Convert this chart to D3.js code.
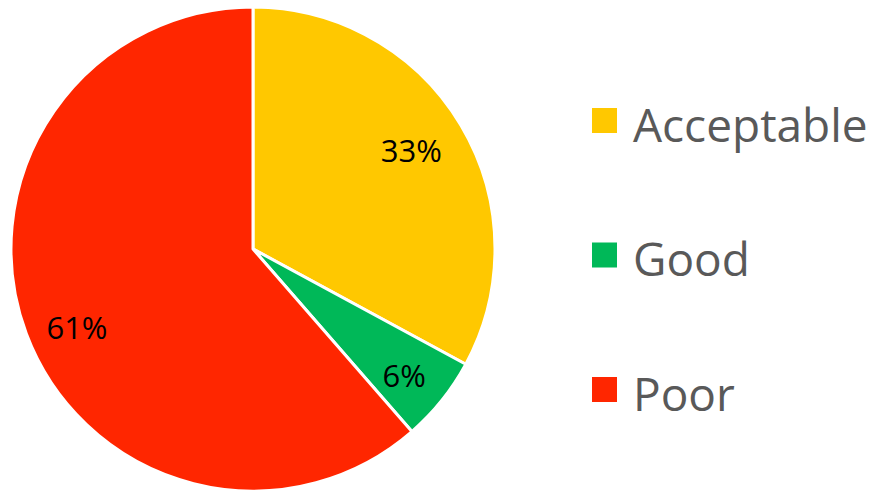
<!DOCTYPE html>
<html>
<head>
<meta charset="utf-8">
<script src="https://cdn.jsdelivr.net/npm/d3@7"></script>
<style>
  body { margin: 0; background: #fff; }
  svg { display: block; }
</style>
</head>
<body>
<svg width="875" height="493"></svg>
<script>
const categories = ['Acceptable', 'Good', 'Poor'];
const values = [32.9, 5.7, 61.4];
const colors = ['#FFC800', '#00B858', '#FF2600'];

const svg = d3.select('svg');
const cx = 253, cy = 249, radius = 242;

const pie = d3.pie().sort(null).value((d) => d.value);
const arc = d3.arc().innerRadius(0).outerRadius(radius);
const labelArc = d3.arc().innerRadius(radius * 0.79).outerRadius(radius * 0.79);
// small nudges, like Excel's best-fit label placement
const nudge = { Acceptable: [-6, 0], Good: [2, 7], Poor: [3, 12] };

const data = categories.map((c, i) => ({ name: c, value: values[i], color: colors[i] }));
const total = d3.sum(values);

const g = svg.append('g').attr('transform', `translate(${cx},${cy})`);

g.selectAll('path')
  .data(pie(data))
  .enter()
    .append('path')
    .attr('d', arc)
    .attr('fill', (d) => d.data.color)
    .attr('stroke', '#fff')
    .attr('stroke-width', 3)
    .attr('stroke-linejoin', 'round');

g.selectAll('text')
  .data(pie(data))
  .enter()
    .append('text')
    .attr('transform', (d) => {
      const [x, y] = labelArc.centroid(d);
      const [nx, ny] = nudge[d.data.name];
      return `translate(${x + nx},${y + ny})`;
    })
    .attr('text-anchor', 'middle')
    .attr('dy', '0.36em')
    .attr('font-family', 'Open Sans, sans-serif')
    .attr('font-size', 31)
    .attr('fill', '#000')
    .text((d) => Math.round(d.data.value / total * 100) + '%');

// legend
const legendY = d3.scalePoint()
  .domain(categories)
  .range([120.5, 389.5]);

const legend = svg.selectAll('g.legend')
  .data(data)
  .enter()
    .append('g')
    .attr('class', 'legend')
    .attr('transform', (d) => `translate(592,${legendY(d.name)})`);

legend.append('rect')
  .attr('x', 0)
  .attr('y', -12.5)
  .attr('width', 25)
  .attr('height', 25)
  .attr('fill', (d) => d.color);

legend.append('text')
  .attr('x', 41)
  .attr('y', 0)
  .attr('dy', 21)
  .attr('font-family', 'Open Sans, sans-serif')
  .attr('font-size', 46)
  .attr('fill', '#595959')
  .text((d) => d.name);
</script>
</body>
</html>
